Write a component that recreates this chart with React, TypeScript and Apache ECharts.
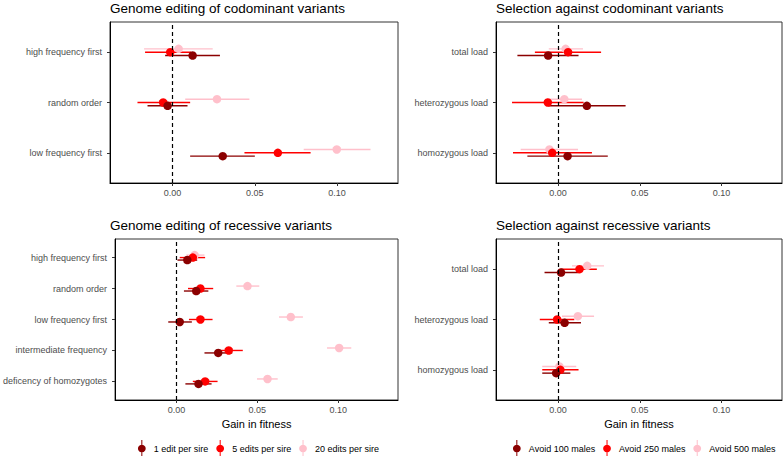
import React, { useEffect, useRef } from "react";
import * as echarts from "echarts";

// Categories (listed top to bottom)
const editCodomCats = ["high frequency first", "random order", "low frequency first"];
const selCodomCats = ["total load", "heterozygous load", "homozygous load"];
const editRecCats = ["high frequency first", "random order", "low frequency first", "intermediate frequency", "deficency of homozygotes"];
const selRecCats = ["total load", "heterozygous load", "homozygous load"];

const editGroups = ["1 edit per sire", "5 edits per sire", "20 edits per sire"];
const selGroups = ["Avoid 100 males", "Avoid 250 males", "Avoid 500 males"];
const groupColors = ["#8B0000", "#FF0000", "#FFC0CB"];

const xTicks = [0, 0.05, 0.1];

// [mean, lower, upper] per category (same order as category lists)
const editCodom1 = [[0.0122, -0.0045, 0.0288], [-0.003, -0.0152, 0.0091], [0.0305, 0.0107, 0.05]];
const editCodom5 = [[-0.0014, -0.0167, 0.0112], [-0.0057, -0.0213, 0.0107], [0.064, 0.0437, 0.0839]];
const editCodom20 = [[0.0037, -0.0173, 0.0244], [0.027, 0.0077, 0.0467], [0.0998, 0.0797, 0.1203]];

const selCodom100 = [[-0.0061, -0.0249, 0.0125], [0.0176, -0.006, 0.0413], [0.0058, -0.0188, 0.0304]];
const selCodom250 = [[0.0061, -0.0142, 0.0263], [-0.0063, -0.0282, 0.0156], [-0.0036, -0.0276, 0.0207]];
const selCodom500 = [[0.0046, -0.0057, 0.0152], [0.0038, -0.0067, 0.0146], [-0.0053, -0.0229, 0.0122]];

const editRec1 = [[0.0067, 0.0006, 0.0128], [0.0122, 0.0046, 0.0197], [0.002, -0.0051, 0.0095], [0.0258, 0.0173, 0.0345], [0.0136, 0.0055, 0.0217]];
const editRec5 = [[0.0101, 0.002, 0.0177], [0.0148, 0.0071, 0.0227], [0.0148, 0.0077, 0.0223], [0.0323, 0.0244, 0.041], [0.0177, 0.0101, 0.0254]];
const editRec20 = [[0.0112, 0.0061, 0.0173], [0.0439, 0.037, 0.0512], [0.0707, 0.0634, 0.0782], [0.1006, 0.0931, 0.1081], [0.0563, 0.0498, 0.0626]];

const selRec100 = [[0.0018, -0.0083, 0.0125], [0.004, -0.0057, 0.014], [-0.0012, -0.0097, 0.0075]];
const selRec250 = [[0.0131, 0.0014, 0.0237], [-0.0006, -0.0112, 0.0099], [0.0014, -0.0097, 0.0125]];
const selRec500 = [[0.0178, 0.0085, 0.0281], [0.0121, 0.0024, 0.022], [0.0008, -0.0097, 0.0111]];

const FONT = "'Liberation Sans', Arial, Helvetica, sans-serif";

type Panel = {
  title: string;
  cats: string[];
  groups: string[];
  data: number[][][];
  dodge: number;
  grid: { left: number; top: number; width: number; height: number };
  xName: string;
};

const panels: Panel[] = [
  { title: "Genome editing of codominant variants", cats: editCodomCats, groups: editGroups, data: [editCodom1, editCodom5, editCodom20], dodge: 0.066, grid: { left: 110, top: 22, width: 288, height: 161 }, xName: "" },
  { title: "Selection against codominant variants", cats: selCodomCats, groups: selGroups, data: [selCodom100, selCodom250, selCodom500], dodge: 0.066, grid: { left: 496, top: 22, width: 286, height: 161 }, xName: "" },
  { title: "Genome editing of recessive variants", cats: editRecCats, groups: editGroups, data: [editRec1, editRec5, editRec20], dodge: 0.08, grid: { left: 110, top: 239, width: 288, height: 161 }, xName: "Gain in fitness" },
  { title: "Selection against recessive variants", cats: selRecCats, groups: selGroups, data: [selRec100, selRec250, selRec500], dodge: 0.066, grid: { left: 496, top: 239, width: 286, height: 161 }, xName: "Gain in fitness" },
];

const legendIcon = "path://M5.4,0H6.6V20H5.4Z M6,5.5A4.5,4.5,0,1,1,5.99,5.5Z";

export default function App() {
  const ref = useRef<HTMLDivElement>(null);
  useEffect(() => {
    if (!ref.current) return;
    const chart = echarts.init(ref.current, undefined, { renderer: "svg" });

    const grids: any[] = [];
    const xAxes: any[] = [];
    const yAxes: any[] = [];
    const titles: any[] = [];
    const series: any[] = [];

    panels.forEach((p, pi) => {
      const n = p.cats.length;
      grids.push({ ...p.grid, show: true, borderColor: "#333", borderWidth: 1, backgroundColor: "transparent", containLabel: false });
      titles.push({
        text: p.title,
        left: p.grid.left - 5,
        top: p.grid.top - 26,
        textStyle: { fontSize: 13.5, fontWeight: "normal", color: "#000", fontFamily: FONT },
      });
      xAxes.push({
        type: "value",
        gridIndex: pi,
        min: -0.038,
        max: 0.137,
        axisLine: { show: true, onZero: false, lineStyle: { color: "#000", width: 1 } },
        axisTick: { show: true, length: 3, customValues: xTicks, lineStyle: { color: "#333" } },
        axisLabel: { show: true, customValues: xTicks, margin: 5, fontSize: 9, color: "#4d4d4d", fontFamily: FONT, formatter: (v: number) => v.toFixed(2) },
        splitLine: { show: false },
        name: p.xName,
        nameLocation: "middle",
        nameGap: 18,
        nameTextStyle: { fontSize: 11, color: "#000", fontFamily: FONT, verticalAlign: "top" },
      });
      const yVals = p.cats.map((_, i) => n - i);
      yAxes.push({
        type: "value",
        gridIndex: pi,
        min: 0.4,
        max: n + 0.6,
        axisLine: { show: true, onZero: false, lineStyle: { color: "#000", width: 1 } },
        axisTick: { show: true, length: 3, customValues: yVals, lineStyle: { color: "#333" } },
        axisLabel: {
          show: true,
          customValues: yVals,
          margin: 8,
          fontSize: 9,
          color: "#4d4d4d",
          fontFamily: FONT,
          formatter: (v: number) => p.cats[n - Math.round(v)] ?? "",
        },
        splitLine: { show: false },
      });

      // error bars (all groups) first
      p.data.forEach((rows, gi) => {
        const off = (gi - 1) * p.dodge;
        series.push({
          type: "custom",
          name: p.groups[gi],
          xAxisIndex: pi,
          yAxisIndex: pi,
          z: 2,
          itemStyle: { color: groupColors[gi] },
          encode: { x: [0, 1, 2], y: 3 },
          data: rows.map((r, i) => [r[0], r[1], r[2], n - i + off]),
          renderItem: (_params: any, api: any) => {
            const y = api.value(3);
            const a = api.coord([api.value(1), y]);
            const b = api.coord([api.value(2), y]);
            return {
              type: "line",
              shape: { x1: a[0], y1: a[1], x2: b[0], y2: b[1] },
              style: { stroke: groupColors[gi], lineWidth: 1.4 },
            };
          },
        });
      });
      // points, pink first, dark last
      [2, 1, 0].forEach((gi) => {
        const off = (gi - 1) * p.dodge;
        const s: any = {
          type: "scatter",
          name: p.groups[gi],
          xAxisIndex: pi,
          yAxisIndex: pi,
          z: 3,
          symbol: "circle",
          symbolSize: 8.5,
          itemStyle: { color: groupColors[gi], opacity: 1 },
          data: p.data[gi].map((r, i) => [r[0], n - i + off]),
        };
        if (gi === 0) {
          s.markLine = {
            silent: true,
            symbol: ["none", "none"],
            label: { show: false },
            lineStyle: { type: [4, 3], color: "#000", width: 1.2 },
            data: [{ xAxis: 0 }],
          };
        }
        series.push(s);
      });
    });

    const mkLegend = (names: string[], left: number) => ({
      left,
      top: 435,
      orient: "horizontal",
      selectedMode: false,
      itemWidth: 14,
      itemHeight: 17,
      itemGap: 8,
      textStyle: { fontSize: 9, color: "#000", fontFamily: FONT },
      data: names.map((nm) => ({ name: nm, icon: legendIcon })),
    });

    chart.setOption({
      animation: false,
      textStyle: { fontFamily: FONT },
      title: titles,
      grid: grids,
      xAxis: xAxes,
      yAxis: yAxes,
      legend: [mkLegend(editGroups, 133), mkLegend(selGroups, 508)],
      series,
    });
    return () => chart.dispose();
  }, []);
  return <div ref={ref} style={{ position: "fixed", left: 0, top: 0, width: 784, height: 456, background: "#fff" }} />;
}
